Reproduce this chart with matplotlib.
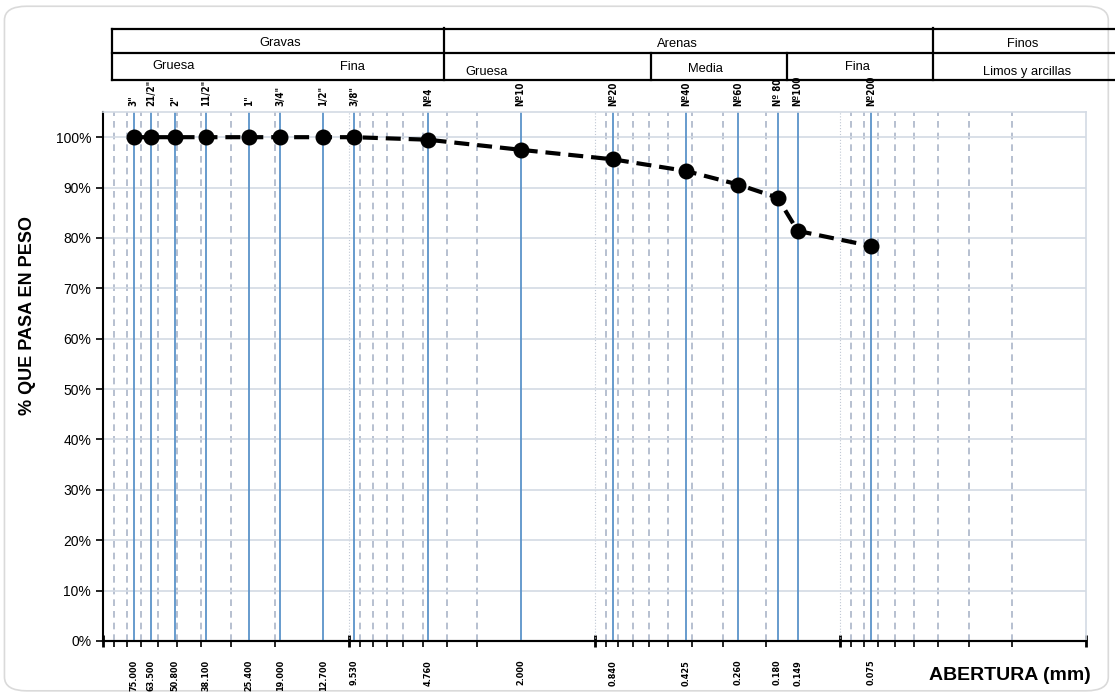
import numpy as np
import matplotlib
matplotlib.use('Agg')
import matplotlib.pyplot as plt
from matplotlib.ticker import LogLocator, NullFormatter, FixedLocator, FuncFormatter
from matplotlib.patches import FancyBboxPatch

# sieve data
sizes = [75.0, 63.5, 50.8, 38.1, 25.4, 19.0, 12.7, 9.53, 4.76, 2.0,
         0.84, 0.425, 0.26, 0.18, 0.149, 0.075]
size_labels = ['75.000', '63.500', '50.800', '38.100', '25.400', '19.000',
               '12.700', '9.530', '4.760', '2.000', '0.840', '0.425',
               '0.260', '0.180', '0.149', '0.075']
sieve_names = ['3"', '21/2"', '2"', '11/2"', '1"', '3/4"', '1/2"', '3/8"',
               'Nº4', 'Nº10', 'Nº20', 'Nº40', 'Nº60', 'Nº 80', 'Nº100', 'Nº200']
passing = [100, 100, 100, 100, 100, 100, 100, 100, 99.5, 97.5,
           95.6, 93.3, 90.6, 88.0, 81.4, 78.4]

plt.rcParams['font.family'] = ['Liberation Sans', 'DejaVu Sans']

W, H = 1115, 695
fig = plt.figure(figsize=(W / 100, H / 100), dpi=100)

# page frame
frame = FancyBboxPatch((0.004, 0.006), 0.99, 0.985, boxstyle='round,pad=0,rounding_size=0.02',
                       transform=fig.transFigure, fc='none', ec='#dadada', lw=1.2, zorder=0)
fig.add_artist(frame)

ax = fig.add_axes([103 / W, 1 - 641 / H, (1086 - 103) / W, (641 - 112) / H])
ax.set_xscale('log')
ax.set_xlim(100, 0.01)
ax.set_ylim(0, 105)

# grid
ax.xaxis.set_minor_locator(LogLocator(base=10, subs=np.arange(2, 10)))
ax.xaxis.set_minor_formatter(NullFormatter())
ax.grid(which='minor', axis='x', ls=(0, (4, 3)), color='#aab5c8', lw=1.2)
for d in [10, 1, 0.1]:
    ax.axvline(d, color='#c0c8d4', lw=0.8, ls=':', zorder=1)
ax.set_yticks(np.arange(0, 101, 10))
ax.yaxis.set_major_formatter(FuncFormatter(lambda v, p: '%d%%' % v))
ax.grid(which='major', axis='y', color='#d3dae4', lw=1.2)

for s in sizes:
    ax.axvline(s, color='#5b93c9', lw=1.3, zorder=2)

# curve
ax.plot(sizes, passing, color='black', lw=3, dashes=(3.6, 1.9), marker='o',
        markersize=10.5, markerfacecolor='black', zorder=5, clip_on=False)

# axes ticks
ax.xaxis.set_major_locator(FixedLocator(sizes))
ax.set_xticklabels(size_labels, rotation=90, fontsize=6.5, fontfamily='DejaVu Sans',
                   fontstretch='condensed', fontweight='bold')
ax.tick_params(axis='x', which='major', length=0, pad=13.5)
ax.tick_params(axis='x', which='minor', length=4, width=1.2, direction='out')
ax.tick_params(axis='y', length=5, width=1.2, labelsize=10, colors='black')

sec = ax.secondary_xaxis('bottom')
sec.set_xticks([100, 10, 1, 0.1, 0.01])
sec.set_xticklabels([])
sec.tick_params(length=9, width=2, direction='inout')
sec.xaxis.set_minor_locator(FixedLocator([]))
sec.spines['bottom'].set_linewidth(1.5)

for side in ['left', 'bottom']:
    ax.spines[side].set_linewidth(1.5)
for side in ['top', 'right']:
    ax.spines[side].set_color('#d3dae4')
    ax.spines[side].set_linewidth(1.2)

ax.set_ylabel('% QUE PASA EN PESO', fontsize=13, fontweight='bold')
ax.yaxis.set_label_coords(-0.068, 0.616)
fig.text(1010 / W, 1 - 676 / H, 'ABERTURA (mm)', fontsize=14, fontweight='bold',
         ha='center', va='center')

# sieve names above the plot
for s, name in zip(sizes, sieve_names):
    ax.text(s, 1.012, name, transform=ax.get_xaxis_transform(), rotation=90,
            ha='center', va='bottom', fontsize=7, fontfamily='DejaVu Sans',
            fontstretch='condensed', fontweight='bold')

# classification table (pixel coordinates)
tb = fig.add_axes([0, 0, 1, 1], zorder=1)
tb.set_xlim(0, W)
tb.set_ylim(H, 0)
tb.axis('off')
lw = 1.6
tb.plot([112, W], [29, 29], color='black', lw=lw)
tb.plot([112, W], [53, 53], color='black', lw=lw)
tb.plot([112, W], [80, 80], color='black', lw=lw)
tb.plot([112, 112], [29, 80], color='black', lw=lw)
tb.plot([444, 444], [28, 80], color='black', lw=lw)
tb.plot([933, 933], [28, 80], color='black', lw=lw)
tb.plot([651, 651], [53, 80], color='black', lw=lw)
tb.plot([787, 787], [53, 80], color='black', lw=lw)

hdr = [('Gravas', 280, 43), ('Arenas', 677, 44), ('Finos', 1023, 44),
       ('Gruesa', 174, 66), ('Fina', 352, 67), ('Gruesa', 487, 72),
       ('Media', 705, 69), ('Fina', 857, 67), ('Limos y arcillas', 1027, 72)]
for t, x, y in hdr:
    tb.text(x, y, t, ha='center', va='center', fontsize=9.3)

fig.savefig('out.png', dpi=100)
